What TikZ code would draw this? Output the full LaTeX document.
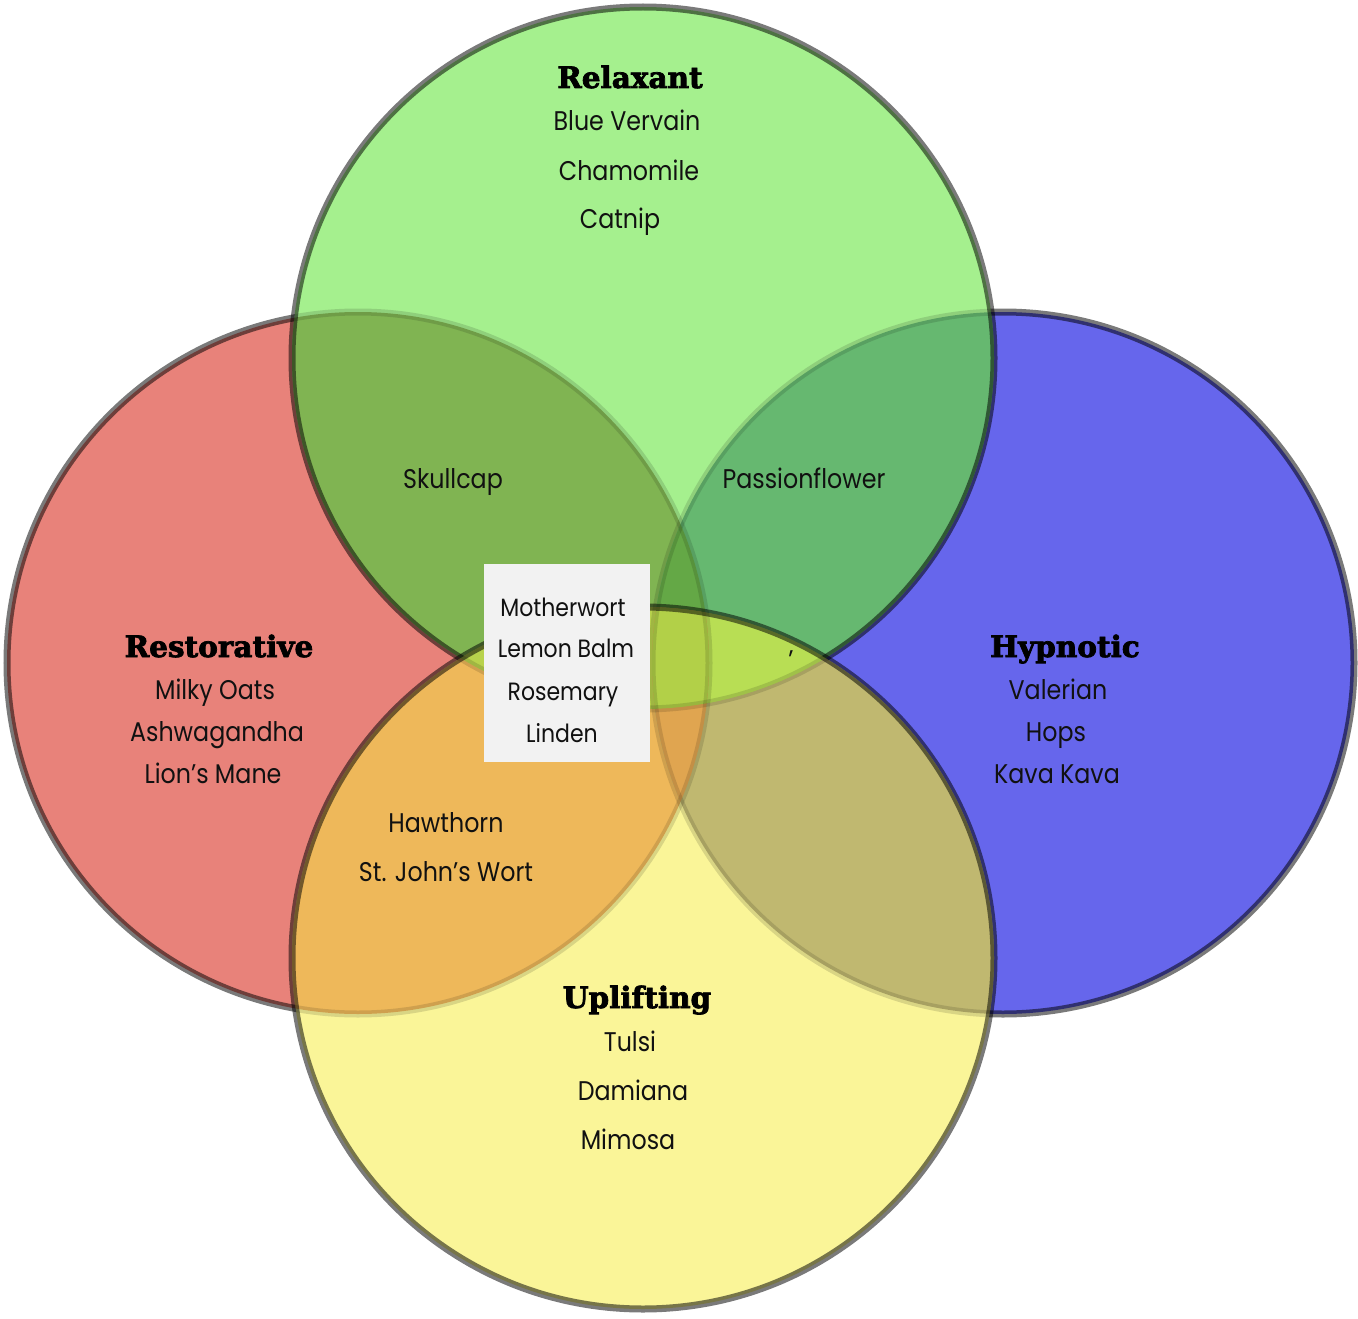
\documentclass[tikz,border=0pt]{standalone}
\usepackage{fontspec}
\setmainfont{Poppins}[FakeStretch=0.88]
\newfontfamily\titlefont{DejaVu Serif}[BoldFeatures={FakeBold=2.5}]
\definecolor{gcol}{RGB}{165,240,142}
\definecolor{rcol}{RGB}{232,130,122}
\definecolor{bcol}{RGB}{102,102,236}
\definecolor{ycol}{RGB}{250,245,152}
\definecolor{grcol}{RGB}{128,180,82}
\definecolor{gbcol}{RGB}{102,184,112}
\definecolor{rycol}{RGB}{238,184,90}
\definecolor{bycol}{RGB}{192,184,112}
\definecolor{gycol}{RGB}{184,222,84}
\definecolor{grbcol}{RGB}{100,168,70}
\definecolor{grycol}{RGB}{184,210,76}
\definecolor{gbycol}{RGB}{184,222,84}
\definecolor{rbycol}{RGB}{224,165,80}
\definecolor{grbycol}{RGB}{178,208,72}
\definecolor{boxgray}{RGB}{242,242,242}
\definecolor{txt}{RGB}{17,17,17}
\def\Gc{(643,358) circle[radius=351pt]}
\def\Rc{(358,663) circle[radius=351pt]}
\def\Bc{(1003,663) circle[radius=351pt]}
\def\Yc{(643,958) circle[radius=351pt]}
\def\Big{(-20,-20) rectangle (1380,1340)}
\begin{document}
\begin{tikzpicture}[x=1pt,y=-1pt,
  item/.style={font=\fontsize{27}{32}\selectfont, text=txt, anchor=base, inner sep=0pt},
  boxitem/.style={item, font=\fontsize{25}{30}\selectfont},
  ttl/.style={font=\titlefont\bfseries\fontsize{29.5}{34}\selectfont, text=black, anchor=base, inner sep=0pt},
  strong/.style={draw=black, draw opacity=0.52, line width=7pt},
  faint/.style={draw=black, draw opacity=0.13, line width=7pt}]
\useasboundingbox[fill=white] (0,0) rectangle (1358,1319);
% single regions
\fill[rcol] \Rc;
\fill[bcol] \Bc;
\fill[gcol] \Gc;
\fill[ycol] \Yc;
% pairs
\begin{scope}\clip \Gc; \fill[grcol] \Rc; \end{scope}
\begin{scope}\clip \Gc; \fill[gbcol] \Bc; \end{scope}
\begin{scope}\clip \Rc; \fill[rycol] \Yc; \end{scope}
\begin{scope}\clip \Bc; \fill[bycol] \Yc; \end{scope}
\begin{scope}\clip \Gc; \fill[gycol] \Yc; \end{scope}
% triples
\begin{scope}\clip \Gc; \clip \Rc; \fill[grbcol] \Bc; \end{scope}
\begin{scope}\clip \Gc; \clip \Rc; \fill[grycol] \Yc; \end{scope}
\begin{scope}\clip \Gc; \clip \Bc; \fill[gbycol] \Yc; \end{scope}
\begin{scope}\clip \Rc; \clip \Bc; \fill[rbycol] \Yc; \end{scope}
% quadruple
\begin{scope}\clip \Gc; \clip \Rc; \clip \Bc; \fill[grbycol] \Yc; \end{scope}
% faint border parts (inside later circles)
\begin{scope}\clip \Gc; \path[faint] \Rc; \path[faint] \Bc; \end{scope}
\begin{scope}[even odd rule]
  \clip \Big \Gc;
  \begin{scope}[nonzero rule]\clip \Yc; \path[faint] \Rc; \path[faint] \Bc; \end{scope}
\end{scope}
\begin{scope}\clip \Yc; \path[faint] \Gc; \end{scope}
% strong parts
\begin{scope}[even odd rule]
  \clip \Big \Gc;
  \clip \Big \Yc;
  \path[strong] \Rc;
  \path[strong] \Bc;
\end{scope}
\begin{scope}[even odd rule]
  \clip \Big \Yc;
  \path[strong] \Gc;
\end{scope}
\path[strong] \Yc;
% central box
\node (box) [fill=boxgray, minimum width=166pt, minimum height=198pt, inner sep=0pt] at (567,663) {};
% Relaxant
\node[ttl]  (relax)  at (630,88)  {Relaxant};
\node[item] (blue)   at (627,131) {Blue Vervain};
\node[item] (chamo)  at (629,180) {Chamomile};
\node[item] (catnip) at (620,229) {Catnip};
% pair labels
\node[item] (skull)  at (453,488) {Skullcap};
\node[item] (passion) at (804,488) {Passionflower};
% Restorative
\node[ttl]  (resto)  at (219,657) {Restorative};
\node[item] (milky)  at (215,699) {Milky Oats};
\node[item] (ashwa)  at (217,741) {Ashwagandha};
\node[item] (lion)   at (213,783) {Lion’s Mane};
% Hypnotic
\node[ttl]  (hypno)  at (1065,657) {Hypnotic};
\node[item] (valer)  at (1058,699) {Valerian};
\node[item] (hops)   at (1056,741) {Hops};
\node[item] (kava)   at (1057,783) {Kava Kava};
% Restorative + Uplifting
\node[item] (hawth)  at (446,832) {Hawthorn};
\node[item] (stjohn) at (446,881) {St. John’s Wort};
% Uplifting
\node[ttl]  (uplift) at (637,1008) {Uplifting};
\node[item] (tulsi)  at (630,1051) {Tulsi};
\node[item] (damia)  at (633,1100) {Damiana};
\node[item] (mimosa) at (628,1149) {Mimosa};
% centre
\node[boxitem] (mother) at (563,616) {Motherwort};
\node[boxitem] (lemon)  at (566,657) {Lemon Balm};
\node[boxitem] (rosem)  at (563,700) {Rosemary};
\node[boxitem] (linden) at (562,742) {Linden};
\node[item, anchor=center] (tick) at (791,660) {’};
\end{tikzpicture}
\end{document}
